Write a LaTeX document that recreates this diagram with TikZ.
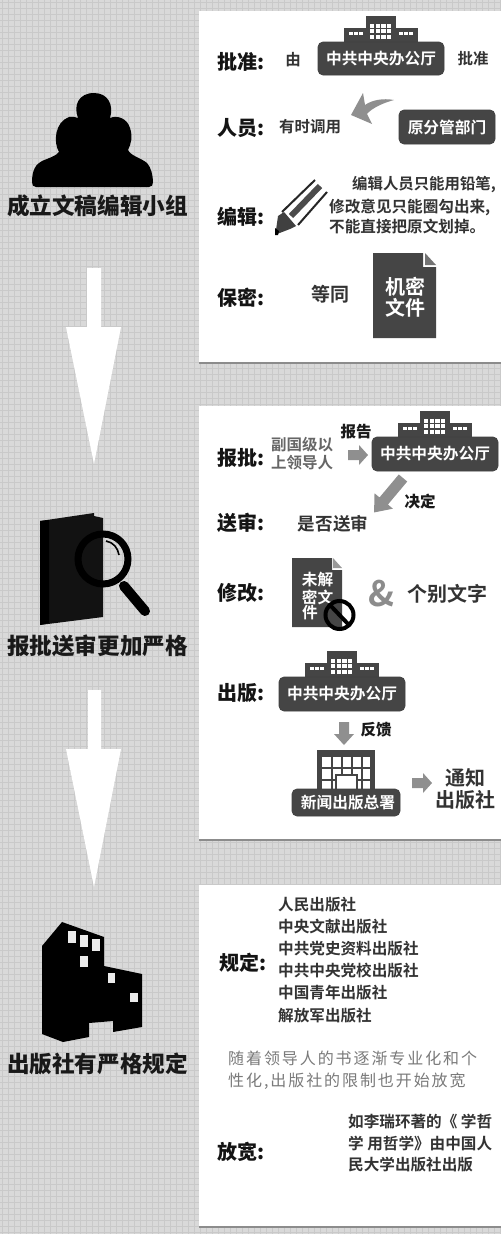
\documentclass[tikz,border=0pt]{standalone}
\usepackage{fontspec}
\setmainfont{Noto Sans CJK SC}
\newfontfamily\cjkh{Noto Sans CJK SC Black}
\newfontfamily\cjkb{Noto Sans CJK SC Bold}
\newfontfamily\cjkm{Noto Sans CJK SC Bold}
\newfontfamily\cjkg[LetterSpace=12]{Noto Sans CJK SC}
\definecolor{bgc}{gray}{0.85}
\definecolor{gridc}{gray}{0.79}
\definecolor{dk}{gray}{0.27}
\definecolor{arw}{gray}{0.56}
\definecolor{txt}{gray}{0.2}
\tikzset{
 x=1pt,y=-1pt,
 head/.style={font=\cjkh\fontsize{22.6}{22.6}\selectfont,text=black!90,inner sep=0},
 lab/.style={font=\cjkh\fontsize{20}{20}\selectfont,text=black!92,inner sep=0,anchor=west},
 body/.style={font=\cjkm\fontsize{15.5}{15.5}\selectfont,text=txt,inner sep=0},
 bodyb/.style={font=\cjkh\fontsize{15.5}{15.5}\selectfont,text=black!90,inner sep=0},
 bodyl/.style={font=\cjkm\fontsize{15.6}{15.6}\selectfont,text=txt,inner sep=0,anchor=west},
 big/.style={font=\cjkb\fontsize{20}{20}\selectfont,text=txt,inner sep=0},
 wtxt/.style={font=\cjkb\fontsize{15.7}{15.7}\selectfont,text=white,inner sep=0},
 wbig/.style={font=\cjkb\fontsize{20}{20}\selectfont,text=white,inner sep=0},
 gtxt/.style={font=\cjkg\fontsize{16}{16}\selectfont,text=black!52,inner sep=0,anchor=west},
 bar/.style={fill=dk,rounded corners=5pt,draw=black!75,line width=.7pt,inner sep=0},
}
% office building standing on a bar: centre x, y of bar top
\newcommand{\offbuilding}[2]{
 \begin{scope}[shift={(#1,#2)}]
 \fill[dk] (-37,1) rectangle (37,-14);
 \fill[dk] (-15,1) rectangle (15,-26);
 \foreach \i in {0,1,2}{\foreach \j in {0,1,2,3}{\fill[white] (-11+\j*5.6,-18+\i*5.4) rectangle ++(4.4,4);}}
 \foreach \j in {0,1,2}{\fill[white] (-32+\j*5,-10) rectangle ++(3.8,3);\fill[white] (18+\j*5,-10) rectangle ++(3.8,3);}
 \end{scope}}
% block arrow: tail x, tail y, rotation, length, half body, half head, head length
\newcommand{\blockarrow}[7]{
 \fill[arw,shift={(#1,#2)},rotate=#3] (0,-#5) -- (#4-#7,-#5) -- (#4-#7,-#6) -- (#4,0) -- (#4-#7,#6) -- (#4-#7,#5) -- (0,#5) -- cycle;}
\begin{document}
\begin{tikzpicture}
\useasboundingbox (0,0) rectangle (501,1234);
\fill[bgc] (0,0) rectangle (501,1234);
\foreach \v in {2,8,...,500}{\draw[gridc,line width=.7pt] (\v,0) -- (\v,1234);}
\foreach \v in {2,8,...,1232}{\draw[gridc,line width=.7pt] (0,\v) -- (501,\v);}
% panels
\fill[black!45] (199,362) rectangle (501,363.5);
\fill[black!45] (199,839) rectangle (501,840.5);
\fill[black!45] (199,1226) rectangle (501,1227.5);
\fill[white] (199,10.5) rectangle (501,362);
\fill[white] (199,406) rectangle (501,839);
\fill[white] (199,885) rectangle (501,1226);
% people
\fill[black] (32,182) .. controls (32,170) and (36,164) .. (42,161) .. controls (49,158) and (56,156) .. (59,152)
 .. controls (53,142) and (55,122) .. (69,117) .. controls (72,116) and (75,117) .. (78,118)
 .. controls (73,105) and (79,93) .. (94,93) .. controls (108,93) and (114,105) .. (110,118)
 .. controls (117,115) and (127,118) .. (130,128) .. controls (133,137) and (131,144) .. (128,150)
 .. controls (131,156) and (141,158) .. (147,163) .. controls (151,167) and (153,176) .. (153,182)
 .. controls (153,185) and (152,187) .. (149,187) -- (36,187) .. controls (33,187) and (32,185) .. (32,182) -- cycle;
\node[head] (t1) at (97.5,206) {成立文稿编辑小组};
% arrow 1
\fill[white] (87,268) -- (101,268) -- (101,327) -- (121,327) -- (94,464) -- (66,327) -- (87,327) -- cycle;
% book and magnifier
\fill[black!93] (40,521) -- (94,513) -- (94,516) -- (103,518) -- (103,617) -- (40,625) -- cycle;
\fill[black] (40,521) -- (49,520) -- (49,623) -- (40,625) -- cycle;
\draw[black,line width=7pt] (103,559) circle (25);
\draw[black,line width=1.6pt] (106,541) .. controls (113,542) and (118,548) .. (119,555);
\draw[black,line width=10pt,line cap=round] (124,586) -- (145,611);
\node[head] (t2) at (97.5,646) {报批送审更加严格};
% arrow 2
\fill[white] (88,690) -- (101,690) -- (101,749) -- (121,749) -- (94,887) -- (66,749) -- (88,749) -- cycle;
% publisher tower
\fill[black] (62,922) -- (104,937) -- (104,966) -- (142,974) -- (142,1027) -- (113,1032) -- (113,1021) -- (89,1023) -- (89,1037) -- (63,1042) -- (42,1034) -- (42,946) -- cycle;
\foreach \a/\b/\c/\d in {68/931/76/943,80/935/88/947,92/939/100/951,80/956/88/967,108/973/115/983,130/993/138/1002}
 {\fill[black!8] (\a,\b) rectangle (\c,\d);}
\node[head] (t3) at (97.5,1064) {出版社有严格规定};
% panel 1
\node[lab] (l1) at (217,62) {批准:};
\node[body] (a1) at (293,60) {由};
\offbuilding{381}{42}
\node[bar,minimum width=126pt,minimum height=33pt] (b1) at (381,58.5) {};
\node[wtxt] (b1t) at (b1) {中共中央办公厅};
\node[body] (a2) at (473,59) {批准};
\node[lab] (l2) at (217,128) {人员:};
\node[body] (a3) at (310,127) {有时调用};
\node[bar,minimum width=96pt,minimum height=34pt] (b2) at (447,127) {};
\node[wtxt] (b2t) at (b2) {原分管部门};
\fill[arw] (351,115) -- (363,93) -- (365,105) .. controls (372,100) and (383,98) .. (394,100) .. controls (383,103) and (372,108) .. (367,114) -- (372,124) -- cycle;
\node[lab] (l3) at (217,217) {编辑:};
% pencil
\draw[black!85,line width=2pt] (282,212) -- (315,180);
\draw[black!70,line width=6pt] (291,216) -- (320,186);
\draw[black!85,line width=2pt] (298,225) -- (327,192);
\fill[black!75] (278,216) -- (284,212) -- (296,226) -- (290,229) -- (277,234) -- (276,230) -- cycle;
\fill[black] (275,228) -- (279,231) -- (278,235) -- (275,235) -- cycle;
\node[bodyl,font=\cjkm\fontsize{15.4}{15.4}\selectfont] (e1) at (352,185) {编辑人员只能用铅笔,};
\node[bodyl] (e2) at (329,207) {修改意见只能圈勾出来,};
\node[bodyl] (e3) at (329,227) {不能直接把原文划掉。};
\node[lab] (l4) at (217,298) {保密:};
\node[body,font=\cjkm\fontsize{19}{19}\selectfont] (a4) at (330,294) {等同};
\fill[dk] (373,253) -- (423,253) -- (423,267) -- (436,267) -- (436,338) -- (373,338) -- cycle;
\fill[black!55] (425,253) -- (436,265) -- (425,265) -- cycle;
\node[wbig] (d1a) at (405,287) {机密};
\node[wbig] (d1b) at (405,308) {文件};
% panel 2
\node[lab] (m1) at (217,458) {报批:};
\node[body,text=black!60] (m1a) at (302,445) {副国级以};
\node[body,text=black!60] (m1b) at (302,463) {上领导人};
\node[bodyb] (m1c) at (356,432) {报告};
\blockarrow{348}{455}{0}{20}{5}{10}{9}
\offbuilding{435}{437}
\node[bar,minimum width=126pt,minimum height=34pt] (b3) at (435,454) {};
\node[wtxt] (b3t) at (b3) {中共中央办公厅};
\blockarrow{403}{478}{-130}{45}{5.5}{12}{15}
\node[bodyb] (m2c) at (420,502) {决定};
\node[lab] (m2) at (217,523) {送审:};
\node[body,font=\cjkm\fontsize{17.6}{17.6}\selectfont] (m2a) at (333,524) {是否送审};
\node[lab] (m3) at (217,593) {修改:};
\fill[dk] (292,558) -- (332,558) -- (332,570) -- (342,570) -- (342,627) -- (292,627) -- cycle;
\fill[black!40] (333,558) -- (342,568) -- (333,568) -- cycle;
\node[wtxt] (d2a) at (317.5,580) {未解};
\node[wtxt] (d2b) at (317.5,597) {密文};
\node[wtxt] (d2c) at (310,613) {件};
\draw[black,line width=4pt] (339.5,615) circle (14);
\draw[black,line width=4pt] (330,605) -- (349,625);
\node[font=\cjkb\fontsize{35}{35}\selectfont,text=black!45,inner sep=0] (m3a) at (381,594) {\&};
\node[big] (m3b) at (447,594) {个别文字};
\node[lab] (m4) at (217,693) {出版:};
\offbuilding{342}{677}
\node[bar,minimum width=126pt,minimum height=34pt] (b4) at (342,694) {};
\node[wtxt] (b4t) at (b4) {中共中央办公厅};
\blockarrow{344}{722}{-90}{23}{5}{10}{11}
\node[bodyb] (m4a) at (376,730) {反馈};
% press office
\fill[dk] (317,750) rectangle (375,792);
\fill[white] (322,757) rectangle (370,790);
\foreach \v in {332,342,352,362}{\fill[dk] (\v-.6,757) rectangle (\v+.6,790);}
\foreach \v in {768,780}{\fill[dk] (322,\v-.6) rectangle (370,\v+.6);}
\fill[white] (336,775) rectangle (357,790);
\draw[dk,line width=1.2pt] (336,790) -- (336,775) -- (357,775) -- (357,790);
\node[bar,minimum width=108pt,minimum height=27pt] (b5) at (346,802.5) {};
\node[wtxt] (b5t) at (348,803) {新闻出版总署};
\blockarrow{412}{783}{0}{20}{5}{10}{9}
\node[big] (m4b) at (465,778) {通知};
\node[big] (m4c) at (465,800) {出版社};
% panel 3
\node[lab] (n1) at (219,963) {规定:};
\node[bodyl] (p1) at (278,905) {人民出版社};
\node[bodyl] (p2) at (278,927) {中央文献出版社};
\node[bodyl] (p3) at (278,949) {中共党史资料出版社};
\node[bodyl] (p4) at (278,971) {中共中央党校出版社};
\node[bodyl] (p5) at (278,993) {中国青年出版社};
\node[bodyl] (p6) at (278,1016) {解放军出版社};
\node[gtxt] (g1) at (228,1058) {随着领导人的书逐渐专业化和个};
\node[gtxt] (g2) at (228,1081) {性化,出版社的限制也开始放宽};
\node[lab] (n2) at (217,1152) {放宽:};
\node[bodyl] (q1) at (348,1122) {如李瑞环著的《 学哲};
\node[bodyl] (q2) at (348,1144) {学 用哲学》由中国人};
\node[bodyl] (q3) at (348,1165) {民大学出版社出版};
\end{tikzpicture}
\end{document}
